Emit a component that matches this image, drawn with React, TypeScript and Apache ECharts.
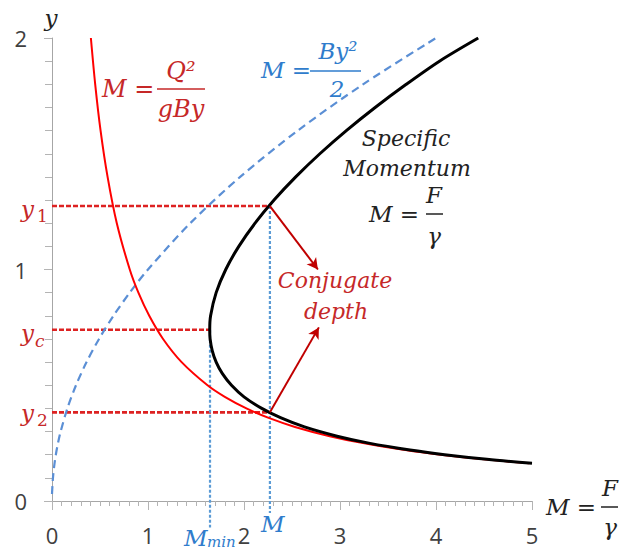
import React, { useEffect, useRef } from "react";
import * as echarts from "echarts";

// Curves: [M, y]
const hydroPts: [number, number][] = [
  [0.405, 2.0], [0.45, 1.8], [0.506, 1.6], [0.579, 1.4], [0.675, 1.2], [0.81, 1.0],
  [0.9, 0.9], [1.013, 0.8], [1.157, 0.7], [1.35, 0.6], [1.62, 0.5], [1.8, 0.45],
  [2.025, 0.4], [2.25, 0.36], [2.531, 0.32], [2.893, 0.28], [3.24, 0.25], [3.682, 0.22],
  [4.05, 0.2], [4.5, 0.18], [4.97, 0.163],
];
const staticPts: [number, number][] = [
  [0.0, 0.03], [0.0025, 0.05], [0.01, 0.1], [0.0225, 0.15], [0.04, 0.2], [0.0625, 0.25],
  [0.09, 0.3], [0.16, 0.4], [0.25, 0.5], [0.36, 0.6], [0.49, 0.7], [0.64, 0.8],
  [0.81, 0.9], [1.0, 1.0], [1.44, 1.2], [1.96, 1.4], [2.56, 1.6], [3.24, 1.8], [4.0, 2.0],
];
const momentumPts: [number, number][] = [
  [5.0, 0.163], [4.53, 0.18], [4.09, 0.2], [3.73, 0.22], [3.3, 0.25], [2.97, 0.28],
  [2.63, 0.32], [2.38, 0.36], [2.185, 0.4], [2.0, 0.45], [1.87, 0.5], [1.775, 0.55],
  [1.71, 0.6], [1.669, 0.65], [1.647, 0.7], [1.643, 0.74], [1.652, 0.8], [1.71, 0.9],
  [1.81, 1.0], [1.946, 1.1], [2.115, 1.2], [2.313, 1.3], [2.539, 1.4], [2.79, 1.5],
  [3.066, 1.6], [3.366, 1.7], [3.69, 1.8], [4.036, 1.9], [4.44, 2.0],
];

// Key depths and momentum values
const y1 = 1.274;
const yc = 0.74;
const y2 = 0.383;
const Mmin = 1.646;
const Mval = 2.27;
const dottedBottomMmin = -0.115;
const dottedBottomM = -0.052;
const arrowTips: [number, number][] = [
  [2.77, 1.0],
  [2.78, 0.75],
];

const xTicks = [0, 1, 2, 3, 4, 5];
const yTicks = [0, 1, 2];

const RED_TXT = "#c62828";
const BLUE_TXT = "#2f7ccc";
const MATH = '"DejaVu Serif", serif';

function txt(text: string, x: number, y: number, size: number, fill: string, align = "left", italic = true) {
  return {
    type: "text",
    x,
    y,
    silent: true,
    style: {
      text,
      fontSize: size,
      fontFamily: MATH,
      fontStyle: italic ? "italic" : "normal",
      fill,
      align,
      verticalAlign: "middle",
    },
  };
}
function bar(x1: number, x2: number, y: number, stroke: string) {
  return {
    type: "line",
    silent: true,
    shape: { x1, y1: y, x2, y2: y },
    style: { stroke, lineWidth: 1.5 },
  };
}

export default function App() {
  const ref = useRef<HTMLDivElement>(null);
  useEffect(() => {
    if (!ref.current) return;
    const chart = echarts.init(ref.current, null, { renderer: "svg" });
    const refLine = (pts: [number, number][], color: string, dash: number[], width: number) => ({
      type: "line",
      data: pts,
      showSymbol: false,
      symbol: "none",
      clip: false,
      silent: true,
      lineStyle: { color, width, type: dash },
      z: 1,
    });
    chart.setOption({
      animation: false,
      grid: { left: 52, right: 96, top: 38, bottom: 50 },
      xAxis: {
        type: "value",
        min: 0,
        max: 5,
        interval: 1,
        axisLine: { show: true, lineStyle: { color: "#a6a6a6", width: 1 } },
        axisTick: { show: true, length: 9, lineStyle: { color: "#b4b4b4" } },
        minorTick: { show: true, splitNumber: 10, length: 5, lineStyle: { color: "#b4b4b4" } },
        splitLine: { show: false },
        axisLabel: {
          fontSize: 22,
          fontFamily: '"Open Sans", "Noto Sans", sans-serif',
          color: "#404040",
          margin: 23,
          formatter: (v: number) => (xTicks.includes(v) ? String(v) : ""),
        },
      },
      yAxis: {
        type: "value",
        min: 0,
        max: 2,
        interval: 1,
        axisLine: { show: true, lineStyle: { color: "#a6a6a6", width: 1 } },
        axisTick: { show: true, length: 8, lineStyle: { color: "#b4b4b4" } },
        minorTick: { show: true, splitNumber: 10, length: 7, lineStyle: { color: "#b4b4b4" } },
        splitLine: { show: false },
        axisLabel: {
          fontSize: 22,
          fontFamily: '"Open Sans", "Noto Sans", sans-serif',
          color: "#404040",
          margin: 25,
          formatter: (v: number) => (yTicks.includes(v) ? String(v) : ""),
        },
      },
      series: [
        refLine([[0, y1], [Mval, y1]], "#dd2222", [5, 2], 2.6),
        refLine([[0, yc], [Mmin, yc]], "#dd2222", [5, 2], 2.6),
        refLine([[0, y2], [Mval, y2]], "#dd2222", [5, 2], 2.6),
        refLine([[Mmin, yc], [Mmin, dottedBottomMmin]], "#5b9bd5", [3, 2], 2.2),
        refLine([[Mval, y1], [Mval, dottedBottomM]], "#5b9bd5", [3, 2], 2.2),
        {
          type: "line",
          data: staticPts,
          smooth: 0.3,
          showSymbol: false,
          symbol: "none",
          silent: true,
          lineStyle: { color: "#5b8fd5", width: 2.2, type: [8, 5] },
          z: 2,
        },
        {
          type: "line",
          data: hydroPts,
          smooth: 0.3,
          showSymbol: false,
          symbol: "none",
          silent: true,
          lineStyle: { color: "#ff0000", width: 2 },
          z: 3,
        },
        {
          type: "line",
          data: momentumPts,
          smooth: 0.3,
          showSymbol: false,
          symbol: "none",
          silent: true,
          lineStyle: { color: "#000000", width: 3 },
          z: 4,
          markLine: {
            silent: true,
            symbol: ["none", "arrow"],
            symbolSize: [9, 11],
            label: { show: false },
            lineStyle: { color: "#c00000", width: 2, type: "solid" },
            data: [
              [{ coord: [Mval, y1] }, { coord: arrowTips[0] }],
              [{ coord: [Mval, y2] }, { coord: arrowTips[1] }],
            ],
          },
        },
      ],
      graphic: [
        // axis names
        txt("y", 51, 18, 23, "#222", "center"),
        txt("M =", 546, 507, 23, "#222"),
        bar(601, 618, 507, "#222"),
        txt("F", 610, 488, 23, "#222", "center"),
        txt("γ", 610, 527, 23, "#222", "center"),
        // red formula
        txt("M =", 102, 89, 24, RED_TXT),
        bar(157, 205, 89, RED_TXT),
        txt("Q²", 181, 71, 24, RED_TXT, "center"),
        txt("gBy", 181, 109, 24, RED_TXT, "center"),
        // blue formula
        txt("M =", 261, 70, 23, BLUE_TXT),
        bar(310, 361, 71, BLUE_TXT),
        txt("By²", 338, 51, 23, BLUE_TXT, "center"),
        txt("2", 337, 89, 23, BLUE_TXT, "center"),
        // specific momentum
        txt("Specific", 406, 138, 22, "#222", "center"),
        txt("Momentum", 407, 168, 22, "#222", "center"),
        txt("M =", 369, 214, 23, "#222"),
        bar(426, 443, 214, "#222"),
        txt("F", 434, 195, 23, "#222", "center"),
        txt("γ", 434, 236, 23, "#222", "center"),
        // conjugate depth
        txt("Conjugate", 335, 280, 22, RED_TXT, "center"),
        txt("depth", 336, 311, 22, RED_TXT, "center"),
        // depth labels
        txt("y", 21, 209, 23, RED_TXT),
        txt("1", 37, 216, 17, RED_TXT, "left", false),
        txt("y", 21, 333, 23, RED_TXT),
        txt("c", 35, 341, 17, RED_TXT),
        txt("y", 21, 413, 23, RED_TXT),
        txt("2", 37, 420, 17, RED_TXT, "left", false),
        // momentum labels
        txt("M", 184, 538, 23, BLUE_TXT),
        txt("min", 207, 542, 15, BLUE_TXT),
        txt("M", 261, 524, 23, BLUE_TXT),
      ],
    });
    return () => chart.dispose();
  }, []);
  return <div ref={ref} style={{ position: "absolute", left: 0, top: 0, width: 628, height: 551 }} />;
}
